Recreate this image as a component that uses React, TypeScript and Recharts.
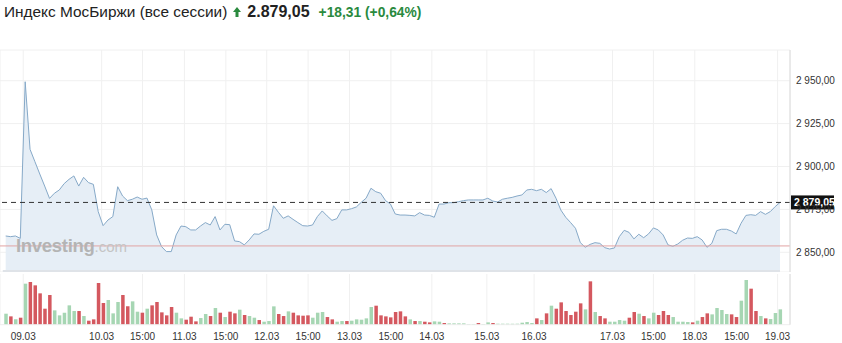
import {
  ComposedChart,
  BarChart,
  Area,
  Bar,
  Cell,
  XAxis,
  YAxis,
  CartesianGrid,
  ReferenceLine,
  ReferenceArea,
} from "recharts";

// hourly closes, 08.03 weekend session -> 19.03
const prices = [
  2859.5, 2859.1, 2859.5, 2858.1, 2949.4, 2910.0, 2902.8, 2895.6, 2888.6, 2881.4,
  2884.4, 2886.3, 2890.0, 2892.5, 2894.5, 2888.6, 2893.7, 2890.6, 2889.6, 2873.7,
  2865.5, 2868.8, 2870.8, 2888.2, 2882.8, 2880.1, 2880.9, 2882.2, 2880.9, 2881.6,
  2874.7, 2860.1, 2853.3, 2850.4, 2850.4, 2860.1, 2865.3, 2864.9, 2863.0, 2863.0,
  2865.3, 2867.3, 2865.9, 2870.8, 2863.0, 2866.3, 2866.1, 2856.6, 2856.2, 2854.3,
  2857.2, 2860.7, 2860.5, 2862.2, 2863.4, 2877.1, 2873.3, 2869.8, 2871.2, 2869.2,
  2867.3, 2865.5, 2865.3, 2865.9, 2870.8, 2874.1, 2871.2, 2868.6, 2869.6, 2874.7,
  2874.7, 2875.4, 2876.4, 2879.1, 2881.5, 2887.3, 2885.3, 2884.4, 2880.1, 2878.1,
  2872.3, 2871.7, 2871.7, 2871.5, 2871.2, 2873.1, 2871.7, 2871.5, 2870.4, 2878.1,
  2878.1, 2878.9, 2878.9, 2879.5, 2880.1, 2880.5, 2880.5, 2880.5, 2880.5, 2881.5,
  2879.9, 2879.3, 2880.9, 2881.5, 2882.0, 2882.8, 2883.4, 2886.3, 2886.7, 2885.9,
  2886.7, 2884.8, 2887.1, 2881.5, 2874.6, 2870.4, 2867.3, 2864.0, 2855.6, 2852.9,
  2854.6, 2855.6, 2855.2, 2852.7, 2851.9, 2852.5, 2859.1, 2862.8, 2861.6, 2857.8,
  2860.5, 2858.5, 2860.7, 2864.2, 2863.0, 2860.1, 2854.3, 2853.5, 2854.8, 2857.0,
  2858.3, 2858.1, 2859.1, 2857.2, 2852.9, 2855.2, 2862.6, 2863.4, 2863.4, 2862.4,
  2860.7, 2866.9, 2871.5, 2871.9, 2871.5, 2873.7, 2872.1, 2873.7, 2876.6, 2879.05,
];

const volumes = [
  33, 25, 16, 21, 123, 128, 118, 94, 48, 89,
  43, 28, 36, 58, 41, 41, 26, 12, 16, 125,
  65, 74, 34, 68, 89, 55, 70, 39, 36, 48,
  58, 68, 37, 28, 53, 36, 19, 15, 24, 10,
  20, 32, 26, 50, 36, 23, 39, 34, 45, 29,
  26, 21, 14, 9, 11, 55, 32, 26, 40, 36,
  28, 27, 28, 21, 36, 38, 23, 16, 9, 11,
  11, 12, 16, 15, 19, 53, 57, 28, 25, 22,
  38, 40, 25, 16, 11, 11, 9, 7, 10, 9,
  5, 4, 4, 4, 4, 2, 2, 5, 2, 7,
  5, 3, 3, 3, 3, 3, 6, 8, 5, 19,
  14, 34, 57, 48, 67, 41, 29, 39, 64, 46,
  130, 38, 26, 19, 9, 9, 14, 12, 21, 38,
  33, 26, 19, 36, 29, 41, 29, 23, 9, 9,
  8, 7, 12, 23, 34, 31, 50, 44, 32, 31,
  23, 72, 134, 108, 41, 26, 19, 17, 35, 46,
];

// g = up bar, r = down bar
const volumeSides = [
  "grgrgrrrrr", "gggggrgrrr", "rgggrrggrg", "rrrrrggrrr",
  "ggrgrgrrgr", "ggrgggrrgr", "rrrgggrrgg", "rgggggrrrr",
  "rrrgrgrrgg", "rggggggrgg", "rggggggggr", "grgrrrrrrg",
  "rgrrggggrr", "grggrrrggg", "grgrrggggr", "rggrrgrggg",
].join("").split("");

const xTicks = [3.6, 19.7, 28.1, 36.7, 45.2, 53.6, 62.1, 70.6, 79.1, 87.5, 98.8, 108.5, 124.6, 133.0, 141.5, 150.1, 158.5];
const xTickLabels = [
  "09.03", "10.03", "15:00", "11.03", "15:00", "12.03", "15:00", "13.03", "15:00",
  "14.03", "15.03", "16.03", "17.03", "15:00", "18.03", "15:00", "19.03",
];
const yTicks = [2850, 2875, 2900, 2925, 2950];

const title = "Индекс МосБиржи (все сессии)";
const refLevel = 2853.7;
const change = 18.31;
const changePct = 0.64;

const X_DOMAIN: [number, number] = [-1.17, 161.05];
const FONT = '"Liberation Sans", Arial, sans-serif';
const UP = "#a6d6b3";
const DOWN = "#d4585f";

const data = prices.map((p, i) => ({
  i,
  price: p,
  vol: volumes[i],
  side: volumeSides[i],
}));

const last = prices[prices.length - 1];

// non-breaking space so recharts does not wrap the tick text
function axisNum(v: number) {
  const [int, dec] = v.toFixed(2).split(".");
  return `${int.replace(/\B(?=(\d{3})+(?!\d))/g, "\u00a0")},${dec}`;
}

function titleNum(v: number) {
  const [int, dec] = v.toFixed(2).split(".");
  return `${int.replace(/\B(?=(\d{3})+(?!\d))/g, ".")},${dec}`;
}

function tickLabel(v: number) {
  const k = xTicks.indexOf(v);
  return k >= 0 ? xTickLabels[k] : "";
}

function LastPriceLabel(props: any) {
  const vb = props.viewBox || {};
  const x = vb.x + vb.width;
  const y = vb.y;
  return (
    <g>
      <rect x={x + 1} y={y - 7} width={43} height={14} fill="#111" />
      <text x={x + 4} y={y + 4} fill="#fff" fontSize={10.5} fontWeight="bold" fontFamily={FONT}>
        {axisNum(last)}
      </text>
    </g>
  );
}

export default function App() {
  return (
    <div style={{ position: "absolute", left: 0, top: 0, width: 842, height: 343, background: "#fff", fontFamily: FONT }}>
      <div style={{ position: "absolute", left: 4, top: 2, display: "flex", alignItems: "center", whiteSpace: "nowrap", height: 20 }}>
        <span style={{ fontSize: 15.4, color: "#222" }}>{title}</span>
        <svg width={8} height={10} style={{ marginLeft: 6, marginRight: 6 }}>
          <polygon points="4,0 8,5 5.5,5 5.5,10 2.5,10 2.5,5 0,5" fill="#2a8a3e" />
        </svg>
        <span style={{ fontSize: 16, fontWeight: "bold", color: "#222" }}>{titleNum(last)}</span>
        <span style={{ fontSize: 13.8, fontWeight: "bold", color: "#2a8a3e", marginLeft: 9 }}>
          +{change.toFixed(2).replace(".", ",")} (+{changePct.toFixed(2).replace(".", ",")}%)
        </span>
      </div>

      <div style={{ position: "absolute", left: 0, top: 0 }}>
        <ComposedChart width={842} height={272} data={data} margin={{ top: 50, right: 0, left: 0, bottom: 0 }}>
          <CartesianGrid stroke="#f0f0f0" />
          <XAxis dataKey="i" type="number" domain={X_DOMAIN} ticks={xTicks} allowDataOverflow hide />
          <YAxis
            orientation="right"
            domain={[2838.5, 2967.9]}
            ticks={yTicks}
            allowDataOverflow
            width={52}
            tickFormatter={axisNum}
            axisLine={{ stroke: "#dcdcdc" }}
            tickLine={false}
            tickMargin={0}
            tick={{ fontSize: 10, fill: "#333", fontFamily: FONT }}
          />
          <Area
            dataKey="price"
            type="linear"
            stroke="#86a9c8"
            strokeWidth={1}
            fill="#e6eef6"
            fillOpacity={1}
            isAnimationActive={false}
          />
          <ReferenceArea x1={-0.6} x2={159} y1={2838.5} y2={2839.6} fill="#dfe3e8" fillOpacity={1} stroke="none" />
          <ReferenceLine y={refLevel} stroke="#e2a3a3" />
          <ReferenceLine y={last} stroke="#333" strokeDasharray="5 4" label={<LastPriceLabel />} />
        </ComposedChart>
      </div>

      <div style={{ position: "absolute", left: 16, top: 235, whiteSpace: "nowrap", color: "#b4b4b4", pointerEvents: "none" }}>
        <span style={{ fontSize: 18.5, fontWeight: "bold", letterSpacing: -0.3 }}>Investing</span>
        <span style={{ fontSize: 15, color: "#c4c4c4" }}>.com</span>
      </div>

      <div style={{ position: "absolute", left: 0, top: 0 }}>
        <BarChart width={842} height={343} data={data} margin={{ top: 274, right: 0, left: 0, bottom: 0 }}>
          <CartesianGrid stroke="#f0f0f0" horizontal={false} />
          <XAxis
            dataKey="i"
            type="number"
            domain={X_DOMAIN}
            ticks={xTicks}
            allowDataOverflow
            height={18.3}
            tickFormatter={tickLabel}
            axisLine={{ stroke: "#eeeeee" }}
            tickLine={false}
            tick={{ fontSize: 10, fill: "#333", fontFamily: FONT }}
          />
          <YAxis
            orientation="right"
            domain={[0, 152]}
            width={52}
            tick={false}
            tickLine={false}
            axisLine={{ stroke: "#dcdcdc" }}
          />
          <Bar dataKey="vol" barSize={3.5} isAnimationActive={false}>
            {data.map((d) => (
              <Cell key={d.i} fill={d.side === "g" ? UP : DOWN} />
            ))}
          </Bar>
        </BarChart>
      </div>
    </div>
  );
}
